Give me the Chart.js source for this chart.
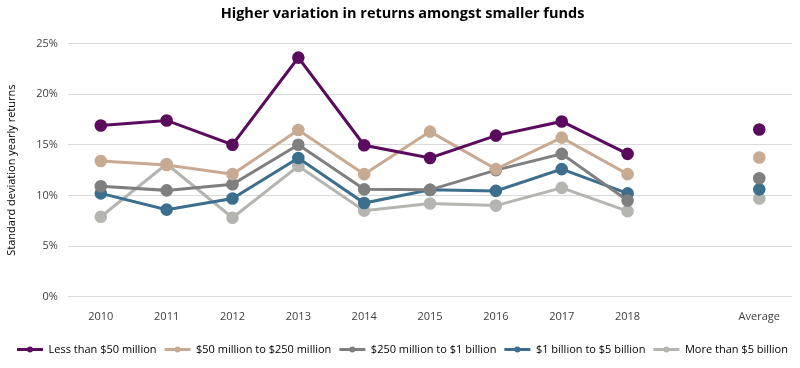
<!DOCTYPE html>
<html><head><meta charset="utf-8">
<script src="https://cdn.jsdelivr.net/npm/chart.js@4/dist/chart.umd.min.js"></script>
<style>html,body{margin:0;padding:0;background:#fff}#wrap{width:800px;height:368px;position:relative}</style>
</head><body><div id="wrap"><canvas id="c"></canvas></div>
<script>
const categories = ['2010','2011','2012','2013','2014','2015','2016','2017','2018','','Average'];
const seriesNames = ['Less than $50 million','$50 million to $250 million','$250 million to $1 billion','$1 billion to $5 billion','More than $5 billion'];
const lessThan50m   = [16.9, 17.4, 15.0, 23.6, 14.95, 13.7, 15.9, 17.3, 14.1, null, 16.5];
const from50mTo250m = [13.4, 13.0, 12.1, 16.45, 12.1, 16.3, 12.6, 15.7, 12.1, null, 13.75];
const from250mTo1b  = [10.9, 10.5, 11.1, 15.0, 10.6, 10.55, 12.5, 14.1, 9.5, null, 11.7];
const from1bTo5b    = [10.2, 8.6, 9.7, 13.7, 9.25, 10.55, 10.45, 12.6, 10.2, null, 10.6];
const moreThan5b    = [7.9, 13.1, 7.8, 12.9, 8.5, 9.2, 9.0, 10.75, 8.45, null, 9.7];
const yTicks = [0, 5, 10, 15, 20, 25];

const colors = ['#5b0b5e', '#c8aa93', '#7f7f80', '#3c6e8d', '#b4b5b0'];
const values = [lessThan50m, from50mTo250m, from250mTo1b, from1bTo5b, moreThan5b];
const FONT = '"Open Sans", "Noto Sans", sans-serif';

const datasets = values.map((v, i) => ({
  label: seriesNames[i], data: v, borderColor: colors[i], backgroundColor: colors[i],
  pointBackgroundColor: colors[i], pointBorderColor: colors[i], order: i,
  borderWidth: 3, pointRadius: 4.8, pointHoverRadius: 4.8, tension: 0, spanGaps: false
}));

const legendDots = {
  id: 'legendDots',
  afterDraw(chart) {
    const lg = chart.legend; if (!lg || !lg.legendHitBoxes) return;
    const ctx = chart.ctx;
    lg.legendHitBoxes.forEach((b, i) => {
      const item = lg.legendItems[i];
      const bw = lg.options.labels.boxWidth;
      ctx.save(); ctx.fillStyle = item.strokeStyle;
      ctx.beginPath(); ctx.arc(b.left + bw / 2, b.top + b.height / 2, 3, 0, Math.PI * 2); ctx.fill(); ctx.restore();
    });
  }
};

new Chart(document.getElementById('c'), {
  type: 'line',
  data: { labels: categories, datasets },
  plugins: [legendDots],
  options: {
    responsive: true, maintainAspectRatio: false, animation: false,
    layout: { padding: { left: 5, right: 0, top: 0, bottom: 3 } },
    plugins: {
      title: { display: true, text: 'Higher variation in returns amongst smaller funds',
        font: { family: FONT, size: 14.5, weight: 'bold' }, color: '#000', padding: { top: 5, bottom: 21 } },
      legend: { position: 'bottom',
        labels: { boxWidth: 26, boxHeight: 3, padding: 8, color: '#000', font: { family: FONT, size: 11 },
          generateLabels(chart) {
            return chart.data.datasets.map((d, i) => ({ text: d.label, fillStyle: d.borderColor, strokeStyle: d.borderColor,
              lineWidth: 0, datasetIndex: i, hidden: false }));
          } } },
      tooltip: { enabled: false }
    },
    scales: {
      x: { offset: true, grid: { display: false }, border: { display: false },
        afterFit(s) { s.height += 8; },
        ticks: { color: '#404040', font: { family: FONT, size: 11 }, padding: 5, maxRotation: 0, autoSkip: false } },
      y: { min: 0, max: 25, border: { display: false },
        afterBuildTicks(s) { s.ticks = yTicks.map(v => ({ value: v })); },
        grid: { color: '#d9d9d9', drawTicks: false, lineWidth: 1 },
        ticks: { color: '#404040', font: { family: FONT, size: 11 }, padding: 10, callback: v => v + '%' },
        title: { display: true, text: 'Standard deviation yearly returns', color: '#000', font: { family: FONT, size: 11 }, padding: { top: 0, bottom: 8 } } }
    }
  }
});
</script></body></html>
